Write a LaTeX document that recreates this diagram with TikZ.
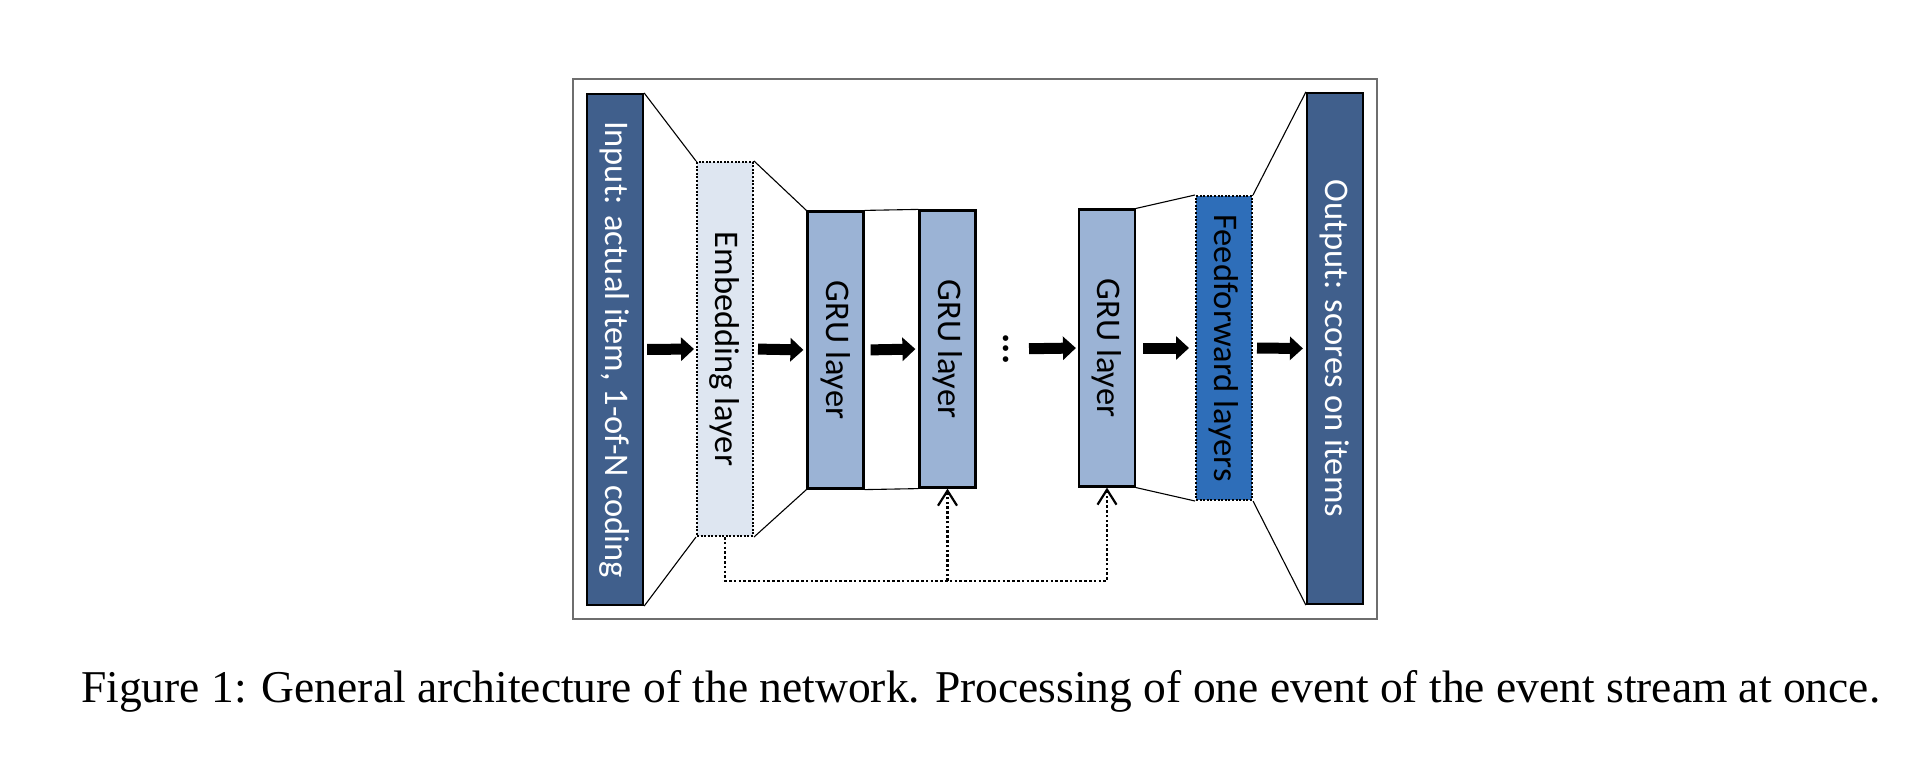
\documentclass[tikz,border=0pt]{standalone}
\usepackage{fontspec}
\setmainfont{Carlito}
\newfontfamily\capfont{Liberation Serif}
\usetikzlibrary{arrows.meta}
\definecolor{barc}{HTML}{405F8C}
\definecolor{gruc}{HTML}{9BB3D5}
\definecolor{embc}{HTML}{DEE6F1}
\definecolor{ffc}{HTML}{2E6EB9}
\definecolor{framec}{HTML}{6E6E6E}
\begin{document}
\begin{tikzpicture}[x=1pt,y=-1pt,
  lbl/.style={inner sep=0pt, minimum width=56pt, font=\fontsize{34.5}{40}\selectfont},
  solidbox/.style={lbl, draw=black, line width=2.2pt},
  dotbox/.style={lbl, draw=black, line width=2pt, dash pattern=on 2pt off 1.6pt},
  iobox/.style={solidbox, fill=barc, text=white, minimum height=511pt},
  grubox/.style={solidbox, fill=gruc, text=black, minimum height=277pt},
  link/.style={draw=black, line width=1.1pt},
  blk/.style={line width=11pt, -{Triangle[length=13pt,width=23pt]}},
  fb/.style={line width=2.6pt, dash pattern=on 2.6pt off 2.2pt,
    -{Straight Barb[length=15pt,width=19pt,line width=2.2pt]}}
]
\useasboundingbox (0,0) rectangle (1920,764);
\fill[white] (0,0) rectangle (1920,764);

% frame
\draw[framec, line width=1.6pt] (573,79) rectangle (1377,619);

% boxes
\node[iobox] (in) at (615,349.5) {\rotatebox{-90}{Input: actual item, 1-of-N coding}};
\node[dotbox, fill=embc, minimum height=374pt] (emb) at (725,349) {\rotatebox{-90}{Embedding layer}};
\node[grubox] (g1) at (835.5,350) {\rotatebox{-90}{GRU layer}};
\node[grubox] (g2) at (947.5,349) {\rotatebox{-90}{GRU layer}};
\node[inner sep=0pt, font=\fontsize{38}{40}\bfseries] (dots) at (1006,349) {\rotatebox{-90}{...}};
\node[grubox] (g3) at (1107,348) {\rotatebox{-90}{GRU layer}};
\node[dotbox, fill=ffc, minimum height=304pt] (ff) at (1224,348) {\rotatebox{-90}{Feedforward layers}};
\node[iobox] (out) at (1335,348.5) {\rotatebox{-90}{Output: scores on items}};

% trapezoid links
\draw[link] (in.north east) -- (emb.north west);
\draw[link] (in.south east) -- (emb.south west);
\draw[link] (emb.north east) -- (g1.north west);
\draw[link] (emb.south east) -- (g1.south west);
\draw[link] (g1.north east) -- (g2.north west);
\draw[link] (g1.south east) -- (g2.south west);
\draw[link] (g3.north east) -- (ff.north west);
\draw[link] (g3.south east) -- (ff.south west);
\draw[link] (ff.north east) -- (out.north west);
\draw[link] (ff.south east) -- (out.south west);

% block arrows
\draw[blk, shorten <=3pt, shorten >=2pt] (in.east) -- (emb.west);
\draw[blk, shorten <=4pt, shorten >=3pt] (emb.east) -- (g1.east -| g1.west);
\draw[blk, shorten <=6pt, shorten >=3pt] (g1.east) -- (g2.west);
\draw[blk, shorten <=20pt, shorten >=2pt] (dots.east) -- (g3.west);
\draw[blk, shorten <=7pt, shorten >=6pt] (g3.east) -- (ff.west);
\draw[blk, shorten <=4pt, shorten >=3pt] (ff.east) -- (out.west);

% feedback dotted
\path (emb.south) ++(0,44) coordinate (fbl);
\draw[fb] (emb.south) -- (fbl) -| (g3.south);
\draw[fb] (fbl -| g2.south) -- (g2.south);

% caption
\node[anchor=base west, inner sep=0pt, font=\capfont\fontsize{45.5}{50}\selectfont] (cap) at (81,702)
  {Figure 1: General architecture of the network. Processing of one event of the event stream at once.};
\end{tikzpicture}
\end{document}
